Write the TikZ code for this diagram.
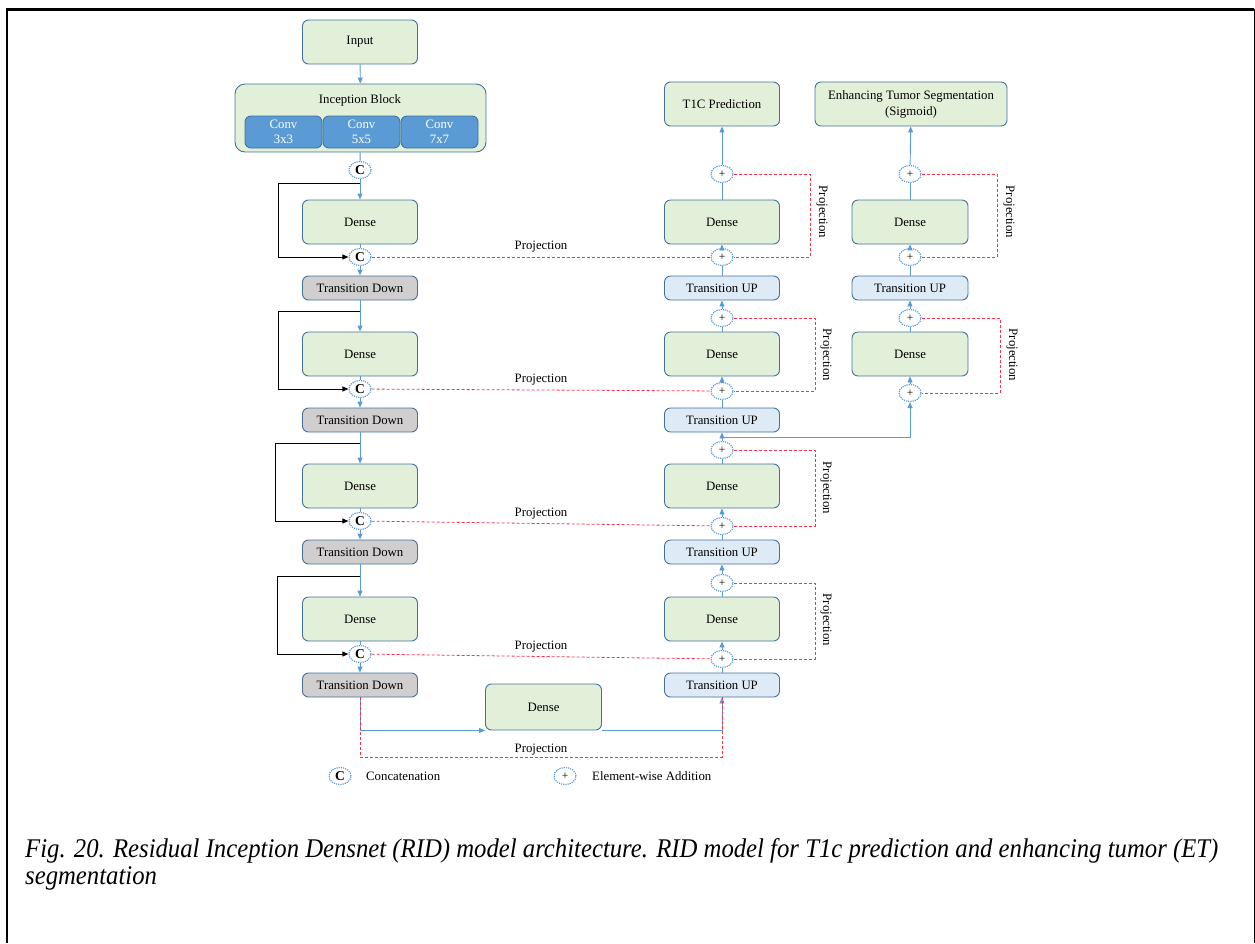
\documentclass[tikz,border=0pt]{standalone}
\usepackage{fontspec}
\setmainfont{Liberation Serif}
\usetikzlibrary{arrows.meta,shapes.geometric,calc}
\definecolor{boxline}{HTML}{41719C}
\definecolor{densefill}{HTML}{E2F0D9}
\definecolor{downfill}{HTML}{D0CECE}
\definecolor{upfill}{HTML}{DEEBF7}
\definecolor{convfill}{HTML}{5B9BD5}
\definecolor{flow}{HTML}{5B9BD5}
\definecolor{projred}{HTML}{F5334F}
\begin{document}
\begin{tikzpicture}[x=1pt,y=-1pt,
  every node/.style={font=\fontsize{12.8}{15}\selectfont},
  blk/.style={draw=boxline, line width=0.9pt, rounded corners=6pt, minimum width=115pt, inner sep=0pt, align=center},
  densebox/.style={blk, fill=densefill, minimum height=44pt},
  downbox/.style={blk, fill=downfill, minimum height=24pt},
  upbox/.style={blk, fill=upfill, minimum height=24pt},
  convbox/.style={blk, fill=convfill, minimum width=77pt, minimum height=32pt, text=white, font=\fontsize{12.8}{15.5}\selectfont},
  joint/.style={ellipse, draw=flow, densely dotted, line width=1.2pt, fill=white, minimum width=22pt, minimum height=17pt, inner sep=0pt},
  cat/.style={joint, font=\bfseries\fontsize{13.5}{13.5}\selectfont},
  add/.style={joint, font=\fontsize{11.5}{11.5}\selectfont},
  flowline/.style={draw=flow, line width=0.9pt},
  arr/.style={flowline, -{Triangle[length=6pt,width=5pt]}},
  skip/.style={draw=black, line width=0.9pt, -{Triangle[length=6pt,width=5pt]}},
  proj/.style={draw=projred, line width=0.8pt, dash pattern=on 3pt off 2pt},
  projtext/.style={inner sep=1pt},
]
\useasboundingbox (0,0) rectangle (1255,943);

% page frame
\draw[line width=2.5pt] (7,943) -- (7,9.5) -- (1254,9.5);
\draw[line width=1pt] (1254,9) -- (1254,943);

% ---------- encoder ----------
\node[densebox] (in) at (360,42) {Input};
\node[blk, fill=densefill, rounded corners=10pt, minimum width=251pt, minimum height=68pt] (inc) at (360.5,118) {};
\node (inctitle) at (360,100) {Inception Block};
\node[convbox] (cv1) at (283.5,132) {Conv\\3x3};
\node[convbox] (cv2) at (361.5,132) {Conv\\5x5};
\node[convbox] (cv3) at (439.5,132) {Conv\\7x7};

\node[cat] (c0) at (360,170) {C};
\node[densebox] (d1) at (360,222) {Dense};
\node[cat] (c1) at (360,257) {C};
\node[downbox] (td1) at (360,288) {Transition Down};
\node[densebox] (d2) at (360,354) {Dense};
\node[cat] (c2) at (360,389) {C};
\node[downbox] (td2) at (360,420) {Transition Down};
\node[densebox] (d3) at (360,486) {Dense};
\node[cat] (c3) at (360,521) {C};
\node[downbox] (td3) at (360,552) {Transition Down};
\node[densebox] (d4) at (360,619) {Dense};
\node[cat] (c4) at (360,654) {C};
\node[downbox] (td4) at (360,685) {Transition Down};

\node[densebox, minimum width=116pt, minimum height=46pt] (bott) at (543.5,707) {Dense};

% ---------- T1C decoder ----------
\node[densebox] (t1c) at (722,104) {T1C Prediction};
\node[add] (a1) at (722,174) {+};
\node[densebox] (ud1) at (722,222) {Dense};
\node[add] (a2) at (722,257) {+};
\node[upbox] (u1) at (722,288) {Transition UP};
\node[add] (a3) at (722,318) {+};
\node[densebox] (ud2) at (722,354) {Dense};
\node[add] (a4) at (722,391) {+};
\node[upbox] (u2) at (722,420) {Transition UP};
\node[add] (a5) at (722,450) {+};
\node[densebox] (ud3) at (722,486) {Dense};
\node[add] (a6) at (722,526) {+};
\node[upbox] (u3) at (722,552) {Transition UP};
\node[add] (a7) at (722,583) {+};
\node[densebox] (ud4) at (722,619) {Dense};
\node[add] (a8) at (722,659) {+};
\node[upbox] (u4) at (722,685) {Transition UP};

% ---------- ET decoder ----------
\node[densebox, minimum width=192pt, font=\fontsize{12.8}{16}\selectfont] (et) at (911,104) {Enhancing Tumor Segmentation\\(Sigmoid)};
\node[add] (b1) at (910,174) {+};
\node[densebox, minimum width=116pt] (ed1) at (910,222) {Dense};
\node[add] (b2) at (910,257) {+};
\node[upbox, minimum width=116pt] (e1) at (910,288) {Transition UP};
\node[add] (b3) at (910,318) {+};
\node[densebox, minimum width=116pt] (ed2) at (910,354) {Dense};
\node[add] (b4) at (910,393) {+};

% ---------- encoder flow ----------
\draw[arr] (in) -- (inc);
\draw[flowline] (inc) -- (c0);
\draw[arr] (c0) -- (d1);
\draw[flowline] (d1) -- (c1);
\draw[arr] (c1) -- (td1);
\draw[arr] (td1) -- (d2);
\draw[flowline] (d2) -- (c2);
\draw[arr] (c2) -- (td2);
\draw[arr] (td2) -- (d3);
\draw[flowline] (d3) -- (c3);
\draw[arr] (c3) -- (td3);
\draw[arr] (td3) -- (d4);
\draw[flowline] (d4) -- (c4);
\draw[arr] (c4) -- (td4);

% dense skip connections
\coordinate (s1) at (360,183);
\coordinate (s2) at (360,311);
\coordinate (s3) at (360,443);
\coordinate (s4) at (360,576);
\draw[skip] (s1) -- (278,183) |- (c1);
\draw[skip] (s2) -- (278,311) |- (c2);
\draw[skip] (s3) -- (275,443) |- (c3);
\draw[skip] (s4) -- (277,576) |- (c4);

% bottleneck
\draw[arr] (td4) |- (bott.south west);
\draw[arr] (bott.south east) -| (u4);

% ---------- T1C flow ----------
\draw[arr] (a1) -- (t1c);
\draw[flowline] (ud1) -- (a1);
\draw[arr] (a2) -- (ud1);
\draw[flowline] (u1) -- (a2);
\draw[arr] (a3) -- (u1);
\draw[flowline] (ud2) -- (a3);
\draw[arr] (a4) -- (ud2);
\draw[flowline] (u2) -- (a4);
\draw[arr] (a5) -- (u2);
\draw[flowline] (ud3) -- (a5);
\draw[arr] (a6) -- (ud3);
\draw[flowline] (u3) -- (a6);
\draw[arr] (a7) -- (u3);
\draw[flowline] (ud4) -- (a7);
\draw[arr] (a8) -- (ud4);
\draw[flowline] (u4) -- (a8);

% ---------- ET flow ----------
\draw[arr] (b1) -- (et);
\draw[flowline] (ed1) -- (b1);
\draw[arr] (b2) -- (ed1);
\draw[flowline] (e1) -- (b2);
\draw[arr] (b3) -- (e1);
\draw[flowline] (ed2) -- (b3);
\draw[arr] (b4) -- (ed2);
\coordinate (br) at (722,437);
\draw[arr] (br) -| (b4);

% ---------- long projections ----------
\draw[proj] (c1) -- node[projtext, midway, above=3pt] {Projection} (a2);
\draw[proj] (c2) -- node[projtext, midway, above=3pt] {Projection} (a4);
\draw[proj] (c3) -- node[projtext, midway, above=3pt] {Projection} (a6);
\draw[proj] (c4) -- node[projtext, midway, above=3pt] {Projection} (a8);
\draw[proj] (td4.south) -- ++(0,60) coordinate (pl) -| (u4.south);
\node[projtext, above=1pt] (plt) at ($(pl)!0.5!(pl-|u4.south)$) {Projection};

% ---------- local projections ----------
\draw[proj] (a1) -- (810,174) |- (a2);
\draw[proj] (a3) -- (815,318) |- (a4);
\draw[proj] (a5) -- (815,450) |- (a6);
\draw[proj] (a7) -- (815,583) |- (a8);
\draw[proj] (b1) -- (997,174) |- (b2);
\draw[proj] (b3) -- (1000,318) |- (b4);
\node[projtext, rotate=-90] (pr1) at (822,212) {Projection};
\node[projtext, rotate=-90] (pr2) at (826,355) {Projection};
\node[projtext, rotate=-90] (pr3) at (826,488) {Projection};
\node[projtext, rotate=-90] (pr4) at (826,620) {Projection};
\node[projtext, rotate=-90] (pr5) at (1009,212) {Projection};
\node[projtext, rotate=-90] (pr6) at (1012,355) {Projection};

% ---------- legend ----------
\node[cat] (lc) at (340,776) {C};
\node[anchor=west, inner sep=0pt] (lct) at (366,776) {Concatenation};
\node[add] (la) at (565,776) {+};
\node[anchor=west, inner sep=0pt] (lat) at (592,776) {Element-wise Addition};

% ---------- caption ----------
\node[anchor=base west, inner sep=0pt] (cap) at (25,857) {\resizebox{1193pt}{\height}{\fontsize{27}{27}\selectfont\itshape
  \begin{tabular}[t]{@{}l@{}}
  Fig. 20. Residual Inception Densnet (RID) model architecture. RID model for T1c prediction and enhancing tumor (ET)\\
  segmentation
  \end{tabular}}};
\end{tikzpicture}
\end{document}
